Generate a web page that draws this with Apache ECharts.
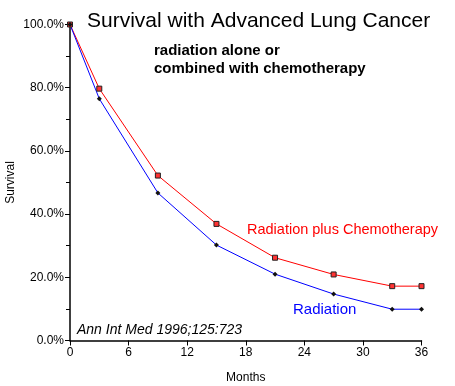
<!DOCTYPE html>
<html>
<head>
<meta charset="utf-8">
<script src="https://cdn.jsdelivr.net/npm/echarts@6/dist/echarts.min.js"></script>
<style>html,body{margin:0;padding:0;background:#fff}#c{width:455px;height:386px}</style>
</head>
<body>
<div id="c"></div>
<script>
var months = [0, 3, 9, 15, 21, 27, 33, 36];
var chemoRadiation = [1.00, 0.797, 0.522, 0.369, 0.262, 0.209, 0.172, 0.172];
var radiationOnly = [1.00, 0.765, 0.467, 0.302, 0.210, 0.147, 0.099, 0.099];
var xTicks = [0, 6, 12, 18, 24, 30, 36];
var yTicks = [0, 0.2, 0.4, 0.6, 0.8, 1.0];

var font = 'Liberation Sans, Arial, sans-serif';
function pairs(xs, ys){ return xs.map(function(x,i){return [x, ys[i]];}); }

var chart = echarts.init(document.getElementById('c'));
chart.setOption({
  animation: false,
  backgroundColor: '#fff',
  grid: {left: 70, right: 33.5, top: 24.5, bottom: 45.5, containLabel: false, outerBoundsMode: 'none'},
  xAxis: {
    type: 'value', min: xTicks[0], max: xTicks[xTicks.length-1], interval: 6,
    name: 'Months', nameLocation: 'middle', nameGap: 31, nameMoveOverlap: false,
    nameTextStyle: {color: '#000', fontFamily: font, fontSize: 12},
    axisLine: {lineStyle: {color: '#000', width: 1.5}},
    axisTick: {show: true, length: 5, lineStyle: {color: '#000'}},
    axisLabel: {color: '#000', fontFamily: font, fontSize: 12, margin: 6},
    splitLine: {show: false}
  },
  yAxis: {
    type: 'value', min: yTicks[0], max: yTicks[yTicks.length-1], interval: 0.2,
    name: 'Survival', nameLocation: 'middle', nameGap: 53, nameMoveOverlap: false,
    nameTextStyle: {color: '#000', fontFamily: font, fontSize: 12},
    axisLine: {show: true, lineStyle: {color: '#000', width: 1.5}},
    axisTick: {show: true, length: 5, lineStyle: {color: '#000'}},
    minorTick: {show: true, splitNumber: 2, length: 4, lineStyle: {color: '#000'}},
    axisLabel: {color: '#000', fontFamily: font, fontSize: 12, margin: 6,
      formatter: function(v){ return (v*100).toFixed(1) + '%'; }},
    splitLine: {show: false}
  },
  series: [
    {
      name: 'Radiation plus Chemotherapy', type: 'line',
      data: pairs(months, chemoRadiation),
      lineStyle: {color: '#ff0000', width: 1},
      symbol: 'rect', symbolSize: 5,
      itemStyle: {color: '#ff3333', borderColor: '#222', borderWidth: 1}
    },
    {
      name: 'Radiation', type: 'line',
      data: pairs(months, radiationOnly),
      lineStyle: {color: '#0000ff', width: 1},
      symbol: 'diamond', symbolSize: 5,
      itemStyle: {color: '#111', borderColor: '#111', borderWidth: 0}
    }
  ],
  graphic: [
    {type: 'text', left: 87, top: 11, style: {text: 'Survival with Advanced Lung Cancer', fill: '#000', font: '21px ' + font}},
    {type: 'text', left: 154, top: 42, style: {text: 'radiation alone or\ncombined with chemotherapy', fill: '#000', font: 'bold 15px ' + font, lineHeight: 18}},
    {type: 'text', left: 247, top: 222, style: {text: 'Radiation plus Chemotherapy', fill: '#ff0000', font: '14.5px ' + font}},
    {type: 'text', left: 293, top: 302, style: {text: 'Radiation', fill: '#0000ff', font: '15px ' + font}},
    {type: 'text', left: 77, top: 323, style: {text: 'Ann Int Med 1996;125:723', fill: '#000', font: 'italic 14px ' + font}}
  ]
});
</script>
</body>
</html>
